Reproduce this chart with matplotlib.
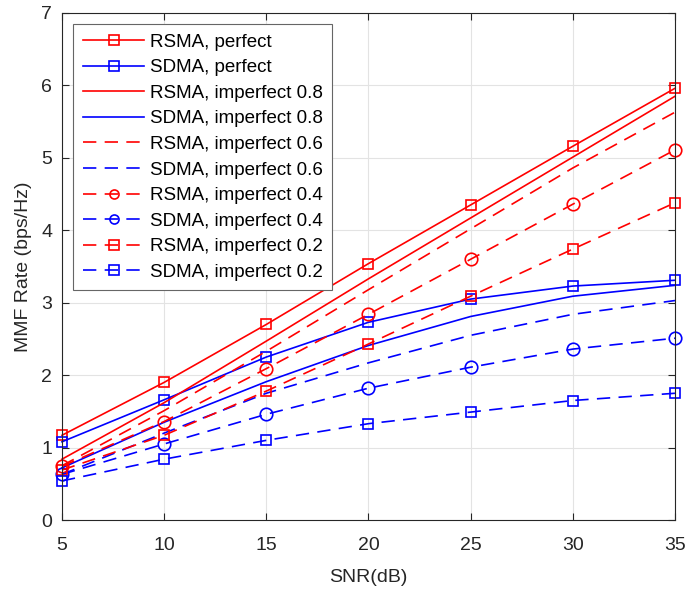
import matplotlib
matplotlib.use("Agg")
import matplotlib.pyplot as plt
import numpy as np

plt.rcParams["font.family"] = ["Liberation Sans", "DejaVu Sans"]

snr = [5, 10, 15, 20, 25, 30, 35]

rsma_perfect = [1.17, 1.90, 2.70, 3.54, 4.35, 5.16, 5.96]
sdma_perfect = [1.08, 1.66, 2.25, 2.73, 3.05, 3.23, 3.31]
rsma_08 = [0.84, 1.62, 2.47, 3.33, 4.17, 5.01, 5.85]
sdma_08 = [0.72, 1.35, 1.91, 2.41, 2.81, 3.09, 3.24]
rsma_06 = [0.75, 1.51, 2.33, 3.18, 4.02, 4.86, 5.63]
sdma_06 = [0.63, 1.20, 1.75, 2.17, 2.55, 2.84, 3.03]
rsma_04 = [0.74, 1.36, 2.09, 2.84, 3.60, 4.36, 5.11]
sdma_04 = [0.63, 1.05, 1.46, 1.82, 2.11, 2.36, 2.51]
rsma_02 = [0.69, 1.17, 1.78, 2.43, 3.09, 3.74, 4.38]
sdma_02 = [0.54, 0.84, 1.10, 1.33, 1.49, 1.65, 1.75]

series = [
    ("RSMA, perfect", rsma_perfect, "r", "-", "s"),
    ("SDMA, perfect", sdma_perfect, "b", "-", "s"),
    ("RSMA, imperfect 0.8", rsma_08, "r", "-", None),
    ("SDMA, imperfect 0.8", sdma_08, "b", "-", None),
    ("RSMA, imperfect 0.6", rsma_06, "r", "--", None),
    ("SDMA, imperfect 0.6", sdma_06, "b", "--", None),
    ("RSMA, imperfect 0.4", rsma_04, "r", "--", "o"),
    ("SDMA, imperfect 0.4", sdma_04, "b", "--", "o"),
    ("RSMA, imperfect 0.2", rsma_02, "r", "--", "s"),
    ("SDMA, imperfect 0.2", sdma_02, "b", "--", "s"),
]

fig = plt.figure(figsize=(6.87, 5.9), dpi=100)
ax = fig.add_axes([0.0902, 0.1186, 0.8923, 0.8594])

for label, vals, col, ls, mk in series:
    ms = 9 if mk == "o" else 7.5
    line, = ax.plot(snr, vals, color=col, linestyle=ls, marker=mk, markersize=ms,
                    markerfacecolor="none", markeredgewidth=1.2, linewidth=1.2,
                    label=label, clip_on=False)
    if ls == "--":
        line.set_dashes((8, 5))

ax.set_xlim(5, 35)
ax.set_ylim(0, 7)
ax.set_xticks(snr)
ax.set_yticks(range(0, 8))
ax.grid(True, color="#e3e3e3", linewidth=0.8)
ax.set_axisbelow(True)
ax.tick_params(direction="in", top=True, right=True, labelsize=14, colors="#262626",
               length=5)
ax.tick_params(axis="x", pad=12)
ax.tick_params(axis="y", pad=7)
for sp in ax.spines.values():
    sp.set_color("#262626")
    sp.set_linewidth(0.8)
ax.set_xlabel("SNR(dB)", fontsize=14, color="#262626", labelpad=11)
ax.set_ylabel("MMF Rate (bps/Hz)", fontsize=14, color="#262626", labelpad=7)

leg = ax.legend(loc="upper left", fontsize=13.5, numpoints=1, handlelength=3.3,
                fancybox=False, framealpha=1, edgecolor="#666666",
                borderaxespad=0.6, labelspacing=0.45, handletextpad=0.3,
                borderpad=0.5)
leg.get_frame().set_linewidth(0.8)
for h in leg.legend_handles:
    h.set_markersize(6.5)

plt.savefig("out.png", dpi=100)
